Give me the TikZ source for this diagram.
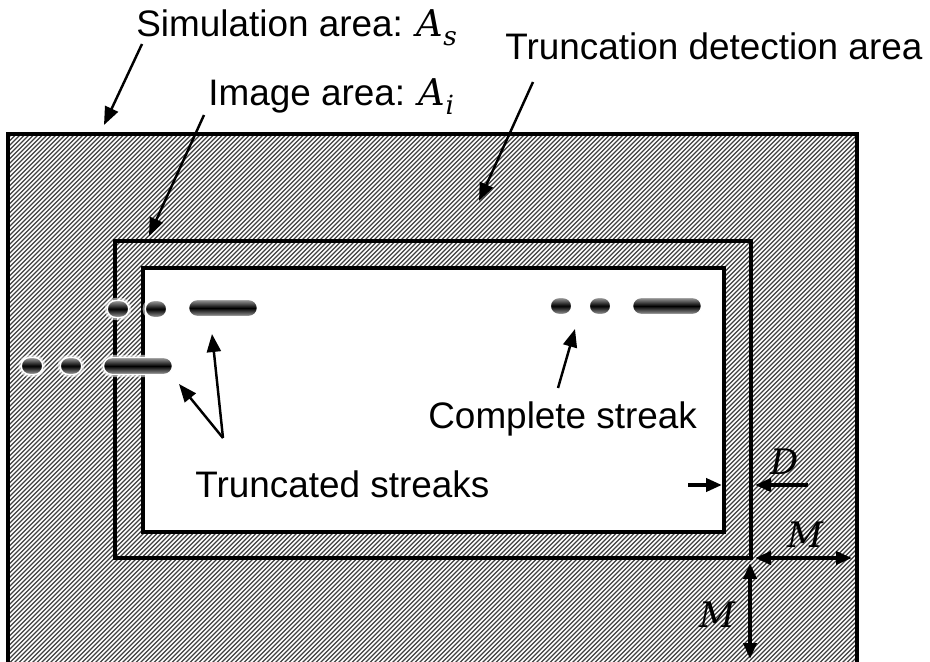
\documentclass[tikz,border=0pt]{standalone}
\usepackage{fontspec}
\setmainfont{Liberation Sans}
\newfontfamily\varfont{DejaVu Serif}
\newcommand\mvar[2]{{\varfont\itshape #1}\raisebox{-0.22em}{\fontsize{15pt}{15pt}\varfont\itshape #2}}
\usetikzlibrary{arrows.meta}
\begin{document}
\begin{tikzpicture}[x=0.02cm, y=-0.02cm,
  font=\fontsize{21pt}{25pt}\selectfont,
  hatch/.style={black!75, line width=0.65pt},
  frame/.style={draw=black, line width=2.4pt},
  streak/.style={preaction={draw=white, line width=3pt, opacity=0.55},
    draw=white, line width=0.8pt, minimum height=0.34cm, inner sep=0pt,
    rounded corners=0.17cm, top color=gray!75, bottom color=gray!75, middle color=black},
  dot/.style={streak, minimum width=0.43cm},
  bar/.style={streak, minimum width=1.38cm},
  ptr/.style={-{Triangle[length=0.36cm,width=0.28cm]}, line width=1.4pt},
  dim/.style={-{Triangle[length=0.32cm,width=0.26cm]}, line width=2.2pt},
  dimboth/.style={dim, {Triangle[length=0.32cm,width=0.26cm]}-{Triangle[length=0.32cm,width=0.26cm]}},
  lbl/.style={anchor=base west, inner sep=0pt},
  vlbl/.style={font=\fontsize{20pt}{24pt}\varfont\itshape}]
  \useasboundingbox (0,0) rectangle (930,662);
  \fill[white] (0,0) rectangle (930,662);
  \begin{scope}
    \clip (8,134) rectangle (857,665);
    \foreach \x in {-560,-555.5,...,860}
      \draw[hatch] (\x,670) -- ++(560,-560);
  \end{scope}
  \fill[white] (143,268) rectangle (724,532);
  \draw[frame, line width=1.8pt] (8,665) -- (8,134) -- (857,134) -- (857,665);
  \draw[frame] (115,241) rectangle (751,558);
  \draw[frame] (143,268) rectangle (724,532);

  \node[dot] (ta1) at (118,309) {};
  \node[dot] (ta2) at (156,309) {};
  \node[bar] (ta3) at (223,308) {};
  \node[dot] (tb1) at (32,366) {};
  \node[dot] (tb2) at (71,366) {};
  \node[bar] (tb3) at (138,366) {};
  \node[dot] (c1) at (561,306) {};
  \node[dot] (c2) at (600,306) {};
  \node[bar] (c3) at (667,306) {};

  \node[lbl] (simlbl) at (136,37) {Simulation area: \mvar{A}{s}};
  \node[lbl] (imglbl) at (208,106) {Image area: \mvar{A}{i}};
  \node[lbl] (trdlbl) at (505,60) {Truncation detection area};
  \node[lbl] (cmplbl) at (428,428) {Complete streak};
  \node[lbl] (trclbl) at (195,497) {Truncated streaks};

  \coordinate (simfrom) at (142,44);
  \coordinate (simto) at (104,125);
  \coordinate (imgfrom) at (204,115);
  \coordinate (imgto) at (149,236);
  \coordinate (trdfrom) at (533,82);
  \coordinate (trdto) at (479,201);
  \coordinate (cmpfrom) at (558,388);
  \coordinate (cmpto) at (575,329);
  \coordinate (trcfrom) at (223,438);
  \coordinate (trcto1) at (212,334);
  \coordinate (trcto2) at (179,384);
  \draw[ptr] (simfrom) -- (simto);
  \draw[ptr] (imgfrom) -- (imgto);
  \draw[ptr] (trdfrom) -- (trdto);
  \draw[ptr] (cmpfrom) -- (cmpto);
  \draw[ptr] (trcfrom) -- (trcto1);
  \draw[ptr] (trcfrom) -- (trcto2);

  \node[vlbl] (dlbl) at (785,462) {D};
  \node[vlbl] (mlbl1) at (805,535) {M};
  \node[vlbl] (mlbl2) at (717,615) {M};
  \coordinate (din) at (688,485);
  \coordinate (dinto) at (722,485);
  \coordinate (dout) at (808,485);
  \coordinate (doutto) at (755,485);
  \coordinate (mh1) at (755,558);
  \coordinate (mh2) at (852,558);
  \coordinate (mv1) at (750,563);
  \coordinate (mv2) at (750,659);
  \draw[dim] (din) -- (dinto);
  \draw[dim] (dout) -- (doutto);
  \draw[dimboth] (mh1) -- (mh2);
  \draw[dimboth] (mv1) -- (mv2);
\end{tikzpicture}
\end{document}
